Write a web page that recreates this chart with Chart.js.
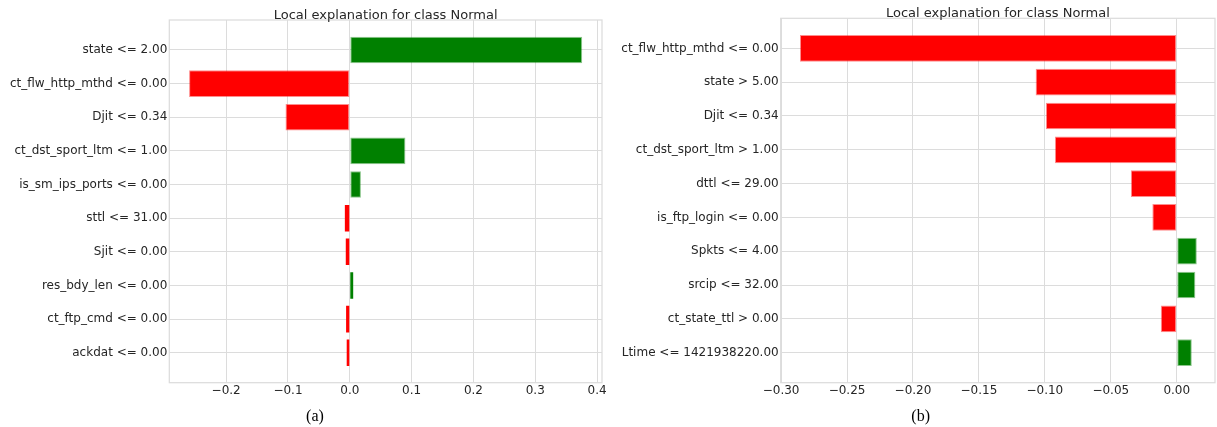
<!DOCTYPE html>
<html>
<head>
<meta charset="utf-8">
<script src="https://cdn.jsdelivr.net/npm/chart.js@4.4.1/dist/chart.umd.min.js"></script>
<style>
  html, body { margin: 0; padding: 0; background: #ffffff; }
  #wrap { position: relative; width: 1217px; height: 427px; overflow: hidden; }
  .panel { position: absolute; top: 0; height: 427px; }
  canvas { display: block; }
</style>
</head>
<body>
<div id="wrap">
  <div class="panel" style="left:0;width:608px"><canvas id="chartA" width="608" height="427"></canvas></div>
  <div class="panel" style="left:608px;width:609px"><canvas id="chartB" width="609" height="427"></canvas></div>
</div>
<script>
// Feature weights of two LIME explanations (class "Normal")
const titleText = 'Local explanation for class Normal';

const leftLabels = [
  'state <= 2.00', 'ct_flw_http_mthd <= 0.00', 'Djit <= 0.34', 'ct_dst_sport_ltm <= 1.00',
  'is_sm_ips_ports <= 0.00', 'sttl <= 31.00', 'Sjit <= 0.00', 'res_bdy_len <= 0.00',
  'ct_ftp_cmd <= 0.00', 'ackdat <= 0.00'
];
const leftValues = [0.376, -0.260, -0.104, 0.090, 0.018, -0.008, -0.0065, 0.0055, -0.006, -0.005];
const leftTicks = [-0.2, -0.1, 0.0, 0.1, 0.2, 0.3, 0.4];

const rightLabels = [
  'ct_flw_http_mthd <= 0.00', 'state > 5.00', 'Djit <= 0.34', 'ct_dst_sport_ltm > 1.00',
  'dttl <= 29.00', 'is_ftp_login <= 0.00', 'Spkts <= 4.00', 'srcip <= 32.00',
  'ct_state_ttl > 0.00', 'Ltime <= 1421938220.00'
];
const rightValues = [-0.2857, -0.107, -0.0992, -0.0924, -0.0348, -0.0185, 0.0152, 0.0141, -0.0121, 0.0114];
const rightTicks = [-0.30, -0.25, -0.20, -0.15, -0.10, -0.05, 0.00];

const TEXT = '#262626';
const GRID = '#dcdcdc';
const POS = '#008000', NEG = '#ff0000';
const POS_EDGE = 'rgba(0,128,0,0.45)', NEG_EDGE = 'rgba(255,0,0,0.45)';

function fmt(v, digits) {
  const s = Math.abs(v).toFixed(digits);
  return (v < -1e-9 ? '\u2212' : '') + s;
}

// Frame around the plot area plus the title and panel caption
const panelDecor = {
  id: 'panelDecor',
  beforeDatasetsDraw(chart, args, opts) {
    const { ctx, chartArea: a } = chart;
    ctx.save();
    ctx.strokeStyle = GRID;
    ctx.lineWidth = 1.25;
    ctx.strokeRect(a.left, a.top, a.right - a.left, a.bottom - a.top);
    ctx.restore();
  },
  afterDraw(chart, args, opts) {
    const { ctx, chartArea: a } = chart;
    ctx.save();
    ctx.fillStyle = TEXT;
    ctx.textAlign = 'center';
    ctx.textBaseline = 'alphabetic';
    ctx.font = '13px "DejaVu Sans"';
    ctx.fillText(opts.title, (a.left + a.right) / 2, a.top - 1);
    ctx.fillStyle = '#000000';
    ctx.font = '16px "Liberation Serif"';
    ctx.fillText(opts.caption, opts.captionX, 420.5);
    ctx.restore();
  }
};

function makeChart(id, labels, values, ticks, cfg) {
  const points = values.map((v, i) => ({ x: v, y: i }));
  return new Chart(document.getElementById(id), {
    type: 'bar',
    data: {
      datasets: [{
        data: points,
        backgroundColor: c => (c.raw && c.raw.x > 0 ? POS : NEG),
        borderColor: c => (c.raw && c.raw.x > 0 ? POS_EDGE : NEG_EDGE),
        // thin bars keep a solid fill
        borderWidth: c => (c.raw && Math.abs(c.raw.x) < 0.012 && cfg.digits === 1 ? 0 : 1),
        borderSkipped: false,
        barPercentage: 0.79,
        categoryPercentage: 1.0
      }]
    },
    plugins: [panelDecor],
    options: {
      indexAxis: 'y',
      responsive: false,
      animation: false,
      events: [],
      layout: { padding: { top: cfg.top, right: cfg.right, bottom: 0, left: 0 } },
      plugins: {
        legend: { display: false },
        tooltip: { enabled: false },
        panelDecor: { title: titleText, caption: cfg.caption, captionX: cfg.captionX }
      },
      scales: {
        x: {
          type: 'linear',
          position: 'bottom',
          min: cfg.xmin,
          max: cfg.xmax,
          afterBuildTicks: s => { s.ticks = ticks.map(v => ({ value: v })); },
          afterFit: s => { s.height = 427 - cfg.bottom; },
          grid: { color: GRID, lineWidth: 1, drawTicks: false },
          border: { display: false },
          ticks: {
            autoSkip: false,
            maxRotation: 0,
            padding: 1,
            color: TEXT,
            font: { family: 'DejaVu Sans', size: 12 },
            callback: v => fmt(v, cfg.digits)
          }
        },
        y: {
          type: 'linear',
          position: 'left',
          reverse: true,
          offset: false,
          min: -0.89,
          max: labels.length - 1 + 0.89,
          afterBuildTicks: s => { s.ticks = labels.map((_, i) => ({ value: i })); },
          afterFit: s => { s.width = cfg.left; },
          grid: { color: GRID, lineWidth: 1, drawTicks: false, offset: false },
          border: { display: false },
          ticks: {
            autoSkip: false,
            padding: 2,
            color: TEXT,
            font: { family: 'DejaVu Sans', size: 12 },
            callback: v => labels[v]
          }
        }
      }
    }
  });
}

makeChart('chartA', leftLabels, leftValues, leftTicks, {
  left: 169.3, right: 6, top: 20, bottom: 382.7,
  xmin: -0.292, xmax: 0.408, digits: 1,
  caption: '(a)', captionX: 315
});

makeChart('chartB', rightLabels, rightValues, rightTicks, {
  left: 172.7, right: 2, top: 18.3, bottom: 382.7,
  xmin: -0.3003, xmax: 0.029, digits: 2,
  caption: '(b)', captionX: 312.7
});
</script>
</body>
</html>
